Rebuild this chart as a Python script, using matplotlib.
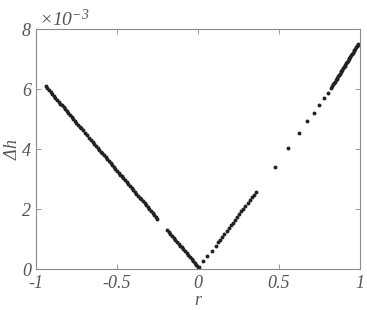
import matplotlib
matplotlib.use("Agg")
import matplotlib.pyplot as plt

# Left branch (r < 0)
r_left = [-0.94, -0.93, -0.92, -0.91, -0.90, -0.89, -0.88, -0.87, -0.86, -0.85,
          -0.84, -0.83, -0.82, -0.81, -0.80, -0.79, -0.78, -0.77, -0.76, -0.75,
          -0.74, -0.73, -0.72, -0.71, -0.695, -0.685,
          -0.67, -0.66, -0.65, -0.64, -0.63, -0.62, -0.61, -0.60, -0.59, -0.58,
          -0.57, -0.56, -0.55, -0.54, -0.53, -0.52, -0.51, -0.50, -0.49, -0.48,
          -0.47, -0.46, -0.45, -0.44, -0.43, -0.42, -0.41, -0.40, -0.39, -0.38,
          -0.37, -0.36, -0.35, -0.34, -0.33, -0.32, -0.31, -0.30, -0.29, -0.28,
          -0.27, -0.26, -0.25,
          -0.19, -0.18, -0.17, -0.16, -0.15, -0.14, -0.13, -0.12, -0.11, -0.10,
          -0.09, -0.08, -0.07, -0.06, -0.05, -0.04, -0.03, -0.02, -0.01, 0.00]
h_left = [6.096, 6.032, 5.968, 5.904, 5.84, 5.776, 5.712, 5.648, 5.584, 5.52,
          5.456, 5.392, 5.328, 5.264, 5.20, 5.136, 5.072, 5.008, 4.944, 4.88,
          4.816, 4.752, 4.688, 4.624, 4.528, 4.464,
          4.368, 4.304, 4.24, 4.176, 4.112, 4.048, 3.984, 3.92, 3.856, 3.792,
          3.728, 3.664, 3.60, 3.536, 3.472, 3.408, 3.344, 3.28, 3.216, 3.152,
          3.088, 3.024, 2.96, 2.896, 2.832, 2.768, 2.704, 2.64, 2.576, 2.512,
          2.448, 2.384, 2.32, 2.256, 2.192, 2.128, 2.064, 2.00, 1.936, 1.872,
          1.808, 1.744, 1.68,
          1.296, 1.232, 1.168, 1.104, 1.04, 0.976, 0.912, 0.848, 0.784, 0.72,
          0.656, 0.592, 0.528, 0.464, 0.40, 0.336, 0.272, 0.208, 0.144, 0.08]

# Right branch (r > 0)
r_right = [0.006, 0.029, 0.057, 0.085, 0.11,
           0.125, 0.137, 0.150, 0.163, 0.176, 0.189, 0.202, 0.215, 0.228, 0.241,
           0.254, 0.267, 0.280, 0.293, 0.306, 0.319, 0.332, 0.345, 0.358,
           0.473, 0.558, 0.621, 0.675, 0.718, 0.749, 0.776, 0.801, 0.821,
           0.830, 0.835, 0.840, 0.845, 0.850, 0.855, 0.860, 0.865, 0.870, 0.875,
           0.880, 0.885, 0.890, 0.895, 0.900, 0.905, 0.910, 0.915, 0.920, 0.925,
           0.930, 0.935, 0.940, 0.945, 0.950, 0.955, 0.960, 0.965, 0.970, 0.975,
           0.980, 0.985, 0.990]
h_right = [0.07, 0.28, 0.45, 0.60, 0.76,
           0.90, 0.986, 1.08, 1.174, 1.267, 1.361, 1.454, 1.548, 1.642, 1.735,
           1.829, 1.922, 2.016, 2.11, 2.203, 2.297, 2.39, 2.484, 2.578,
           3.39, 4.04, 4.53, 4.93, 5.22, 5.47, 5.69, 5.86, 6.04,
           6.12, 6.16, 6.21, 6.25, 6.29, 6.34, 6.38, 6.43, 6.47, 6.51,
           6.56, 6.60, 6.64, 6.69, 6.73, 6.78, 6.82, 6.86, 6.91, 6.95,
           7.00, 7.04, 7.08, 7.13, 7.17, 7.21, 7.26, 7.30, 7.35, 7.39,
           7.43, 7.48, 7.52]

x_ticks = [-1, -0.5, 0, 0.5, 1]
x_ticklabels = ["-1", "-0.5", "0", "0.5", "1"]
y_ticks = [0, 2, 4, 6, 8]
y_ticklabels = ["0", "2", "4", "6", "8"]

plt.rcParams['axes.unicode_minus'] = False
plt.rcParams['font.family'] = 'Liberation Serif'
plt.rcParams['mathtext.fontset'] = 'custom'
plt.rcParams['mathtext.rm'] = 'Liberation Serif:italic'
plt.rcParams['mathtext.it'] = 'Liberation Serif:italic'

txt_color = '#555555'
spine_color = '#8a8a8a'
font = dict(family='Liberation Serif', style='italic', size=13, color=txt_color)

fig = plt.figure(figsize=(3.67, 3.10), dpi=100)
ax = fig.add_axes([0.098, 0.132, 0.883, 0.774])

ax.plot(r_left, h_left, 'o', color='#222222', markersize=2.8, markeredgewidth=0)
ax.plot(r_right, h_right, 'o', color='#222222', markersize=2.8, markeredgewidth=0)

ax.set_xlim(-1, 1)
ax.set_ylim(0, 8)
ax.set_xticks(x_ticks)
ax.set_xticklabels(x_ticklabels, fontdict=font)
ax.set_yticks(y_ticks)
ax.set_yticklabels(y_ticklabels, fontdict=font)
ax.tick_params(direction='in', length=3.5, width=0.6, color=spine_color,
               top=True, right=True, labeltop=False, labelright=False)
ax.tick_params(axis='y', pad=3.5)
ax.tick_params(axis='x', pad=4)
for s in ax.spines.values():
    s.set_color(spine_color)
    s.set_linewidth(0.8)

ax.set_xlabel('r', fontdict=font, labelpad=0)
ax.set_ylabel(r'$\Delta h$', fontdict=font, labelpad=1)
ax.text(0.01, 0.995, r'$\times10^{-3}$', transform=ax.transAxes,
        fontsize=14, color=txt_color, ha='left', va='bottom')

fig.savefig('out.png', dpi=100)
